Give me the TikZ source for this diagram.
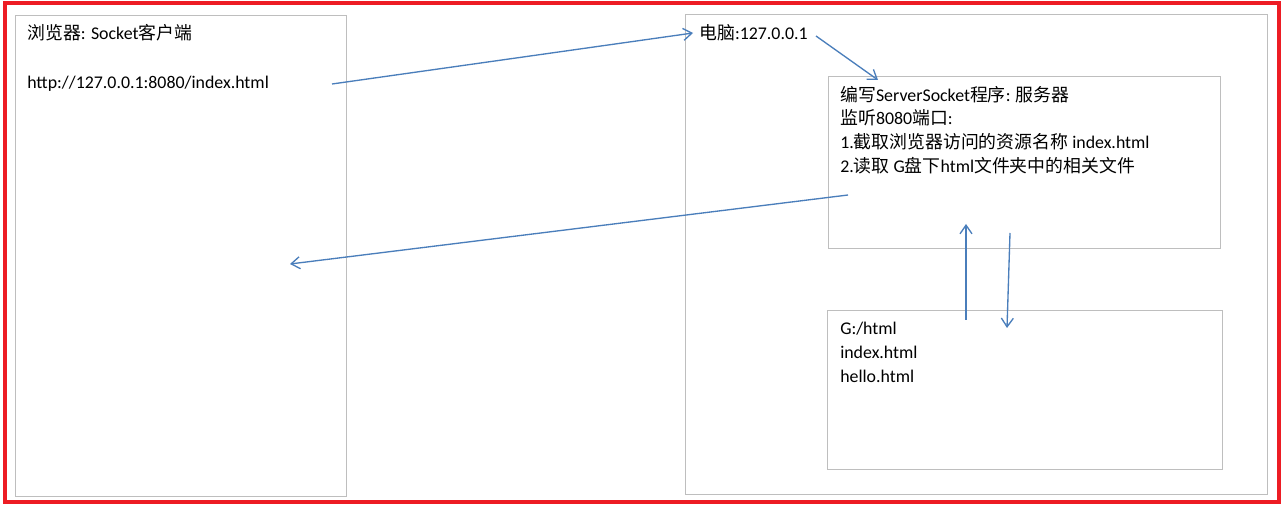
\documentclass[tikz,border=0pt]{standalone}
\usepackage{fontspec}
\setmainfont{Carlito}
\newfontfamily\cjk{Noto Sans CJK SC}
\usetikzlibrary{arrows.meta}
\definecolor{framered}{RGB}{237,28,36}
\definecolor{boxgrey}{RGB}{190,190,190}
\definecolor{linkblue}{RGB}{74,126,187}
\newcommand{\zh}[1]{{\cjk #1}}

\begin{document}
\begin{tikzpicture}[x=0.75pt,y=-0.75pt,
  frame/.style={draw=framered, line width=2.4pt},
  box/.style={draw=boxgrey, line width=0.75pt},
  txt/.style={anchor=base west, inner sep=0pt, font=\fontsize{13.4}{16}\selectfont},
  link/.style={draw=linkblue, line width=1pt, -{Straight Barb[length=6.5pt,width=9pt]}}]
\useasboundingbox[fill=white] (0,0) rectangle (1285,509);
% outer frame and boxes
\draw[frame] (5,3) rectangle (1279,502);
\draw[box] (15,16) rectangle (346,496);
\draw[box] (685,15) rectangle (1267,494);
\draw[box] (828,77) rectangle (1220,249);
\draw[box] (827,311) rectangle (1222,469);
% client
\node[txt] (client) at (27,40) {\zh{浏览器}: Socket\zh{客户端}};
\node[txt] (url) at (27,89) {http://127.0.0.1:8080/index.html};
% computer
\node[txt] (pc) at (699,40) {\zh{电脑}:127.0.0.1};
\node[txt] (srv1) at (840,102) {\zh{编写}ServerSocket\zh{程序}: \zh{服务器}};
\node[txt] (srv2) at (840,125) {\zh{监听}8080\zh{端口}:};
\node[txt] (srv3) at (840,149) {1.\zh{截取浏览器访问的资源名称} index.html};
\node[txt] (srv4) at (840,173) {2.\zh{读取} G\zh{盘下}html\zh{文件夹中的相关文件}};
% files
\node[txt] (dir) at (840,335) {G:/html};
\node[txt] (f1) at (840,359) {index.html};
\node[txt] (f2) at (840,383) {hello.html};
% arrow ends
\coordinate (reqa) at (332,84);
\coordinate (reqb) at (693,33);
\coordinate (pca) at (816,36);
\coordinate (pcb) at (878,80);
\coordinate (resa) at (848,195);
\coordinate (resb) at (290,264);
\coordinate (upa) at (966,320);
\coordinate (upb) at (966,224);
\coordinate (dna) at (1010,233);
\coordinate (dnb) at (1007,328);
\draw[link] (reqa) -- (reqb);
\draw[link] (pca) -- (pcb);
\draw[link] (resa) -- (resb);
\draw[link] (upa) -- (upb);
\draw[link] (dna) -- (dnb);
\end{tikzpicture}
\end{document}
